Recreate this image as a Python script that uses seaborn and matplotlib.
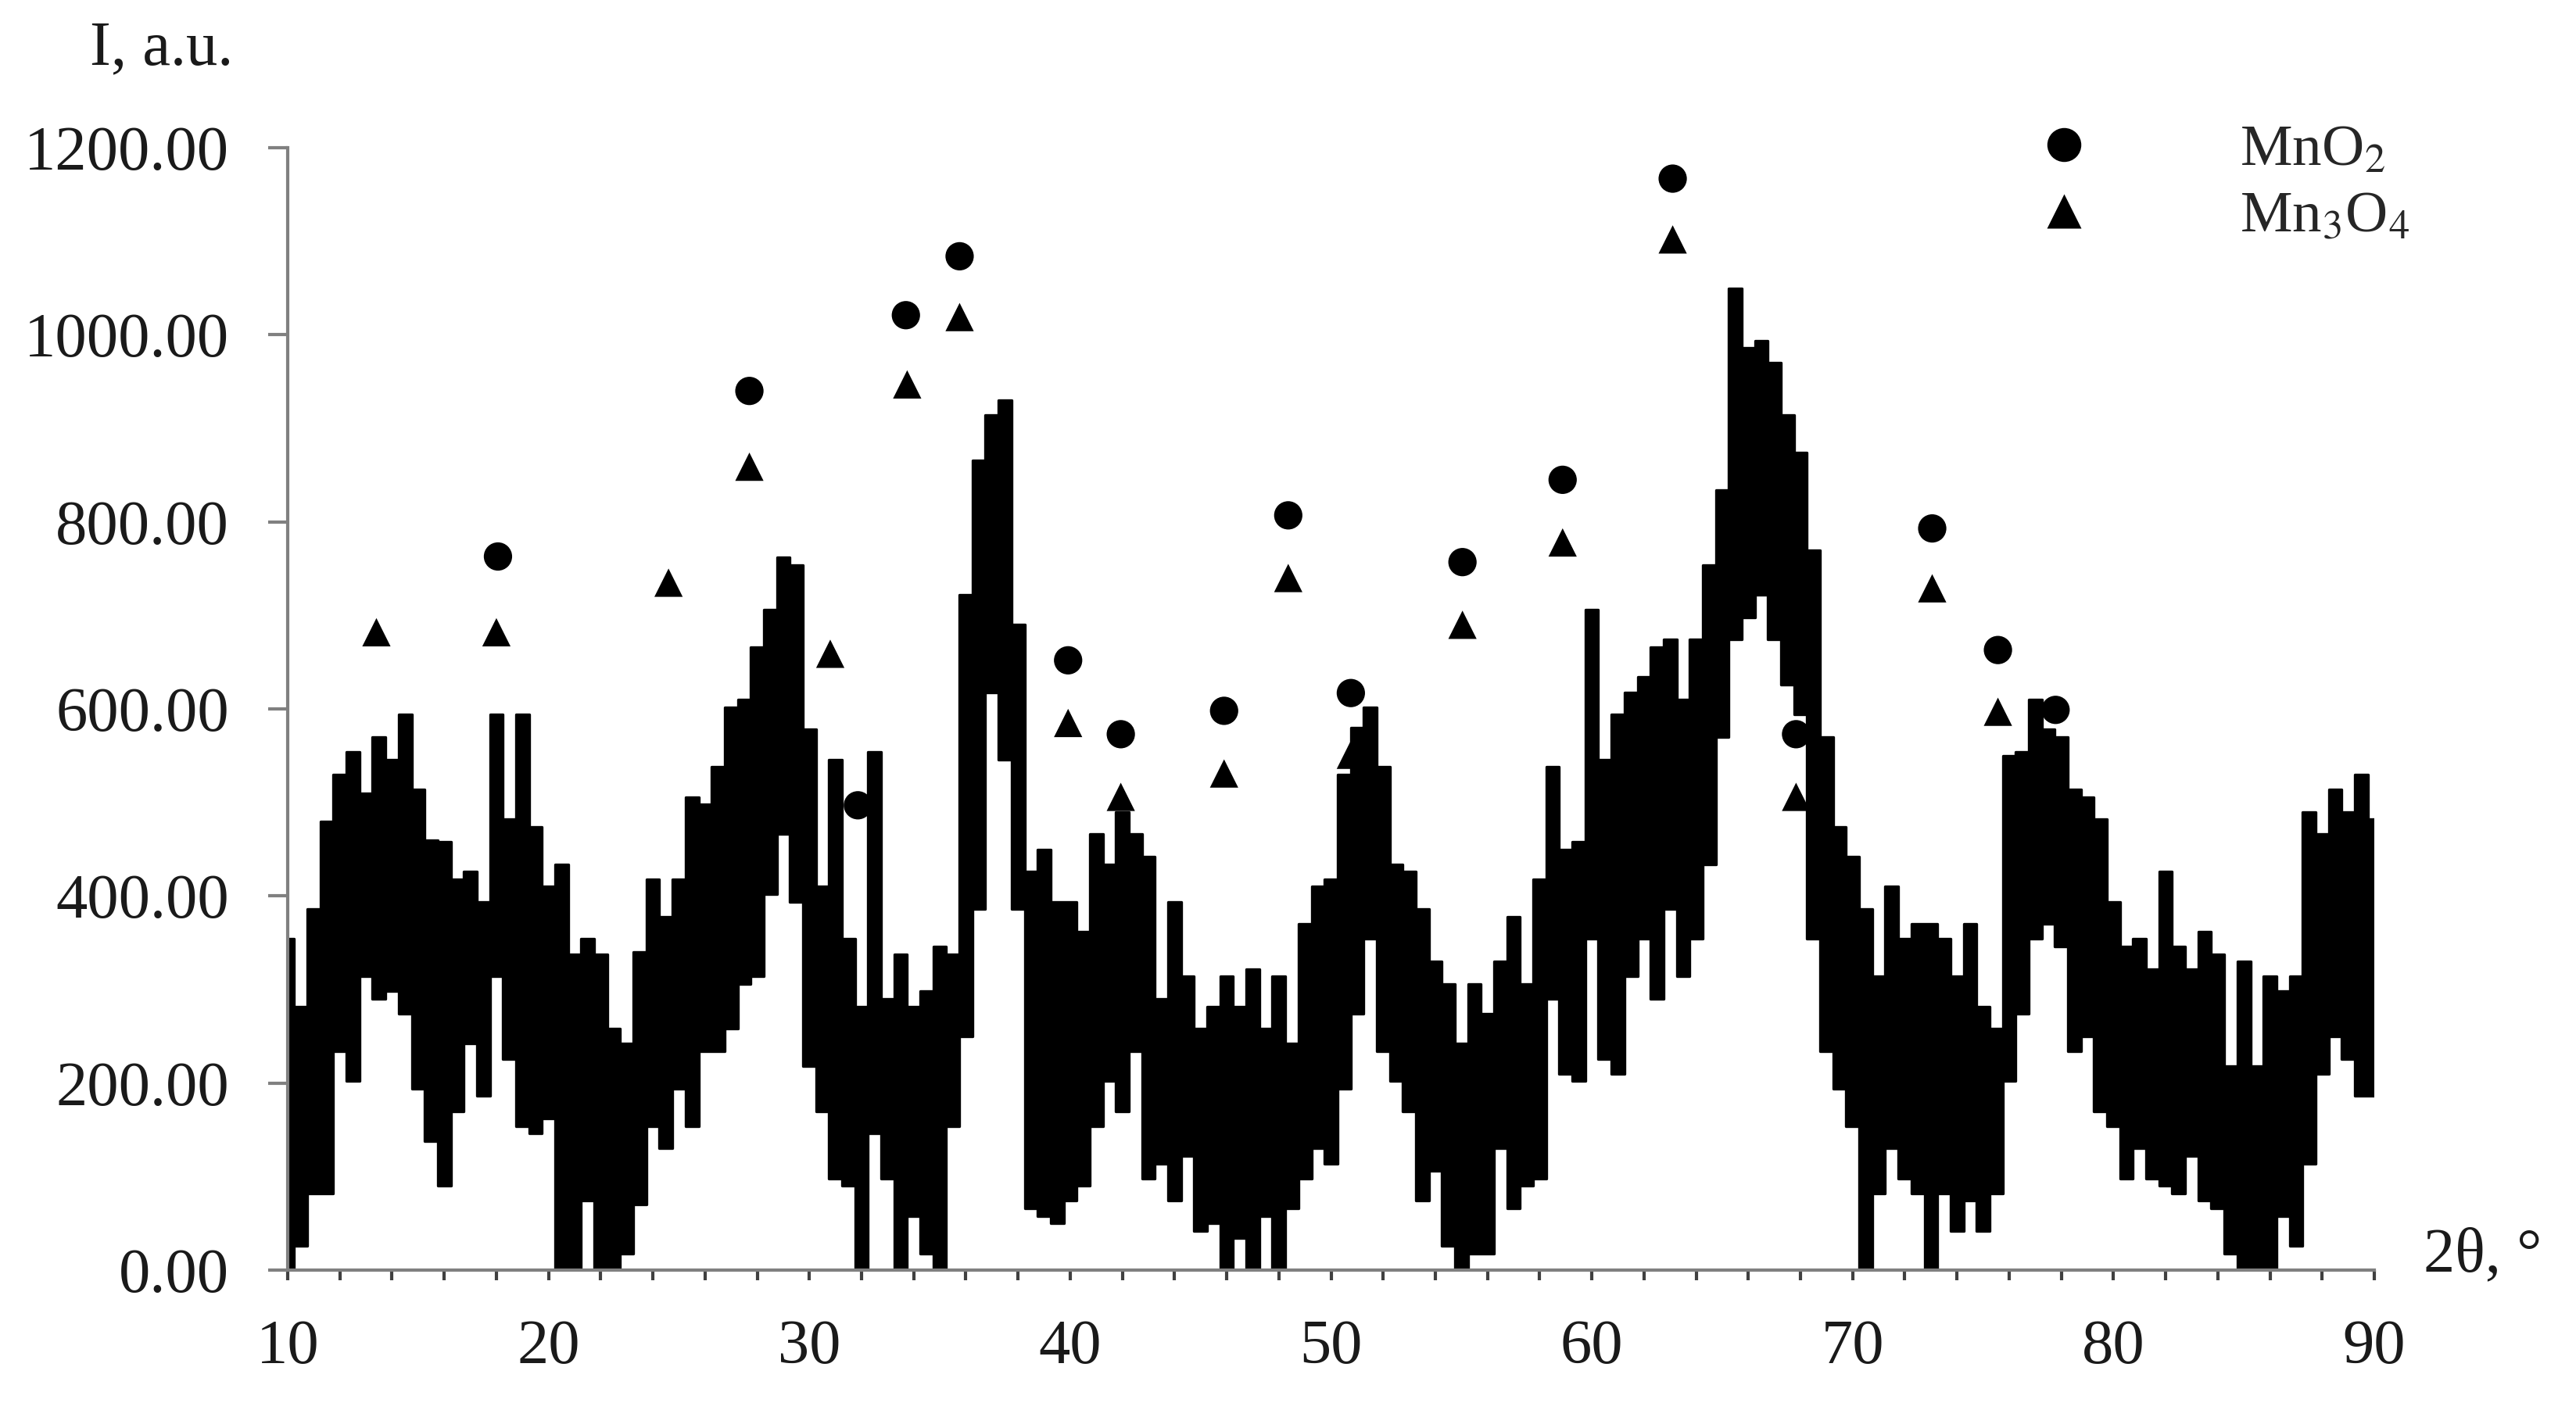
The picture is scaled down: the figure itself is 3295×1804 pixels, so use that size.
import numpy as np
import pandas as pd
import matplotlib
matplotlib.use("Agg")
import matplotlib.pyplot as plt
import seaborn as sns

# 2theta grid of the read-off trace (every 0.5 degree, 10..90)
two_theta = np.arange(10, 90.01, 0.5)

# upper / lower edge of the noisy XRD trace
intensity_high = [
    354, 282, 386, 480, 530, 554, 510, 570, 546, 594,   # 10.0 - 14.5
    514, 460, 458, 418, 426, 394, 594, 482, 594, 474,   # 15.0 - 19.5
    410, 434, 338, 354, 338, 258, 242, 340, 418, 378,   # 20.0 - 24.5
    418, 506, 498, 538, 602, 610, 666, 706, 762, 754,   # 25.0 - 29.5
    578, 410, 546, 354, 282, 554, 290, 338, 282, 298,   # 30.0 - 34.5
    346, 338, 722, 866, 914, 930, 690, 426, 450, 394,   # 35.0 - 39.5
    394, 362, 466, 434, 490, 466, 442, 290, 394, 314,   # 40.0 - 44.5
    258, 282, 314, 282, 322, 258, 314, 242, 370, 410,   # 45.0 - 49.5
    418, 530, 580, 602, 538, 434, 426, 386, 330, 306,   # 50.0 - 54.5
    242, 306, 274, 330, 378, 306, 418, 538, 450, 458,   # 55.0 - 59.5
    706, 546, 594, 618, 634, 666, 674, 610, 674, 754,   # 60.0 - 64.5
    834, 1050, 986, 994, 970, 914, 874, 770, 570, 474,  # 65.0 - 69.5
    442, 386, 314, 410, 354, 370, 370, 354, 314, 370,   # 70.0 - 74.5
    282, 258, 550, 554, 610, 578, 570, 514, 506, 482,   # 75.0 - 79.5
    394, 346, 354, 322, 426, 346, 322, 362, 338, 218,   # 80.0 - 84.5
    330, 218, 314, 298, 314, 490, 466, 514, 490, 530,   # 85.0 - 89.5
    482,                                                # 90.0
]
intensity_low = [
    0, 26, 82, 82, 234, 202, 314, 290, 298, 274,        # 10.0 - 14.5
    194, 138, 90, 170, 242, 186, 314, 226, 154, 146,    # 15.0 - 19.5
    162, 0, 0, 74, 0, 0, 18, 70, 154, 130,              # 20.0 - 24.5
    194, 154, 234, 234, 258, 306, 314, 402, 466, 394,   # 25.0 - 29.5
    218, 170, 98, 90, 0, 146, 98, 0, 58, 18,            # 30.0 - 34.5
    0, 154, 250, 386, 618, 546, 386, 66, 58, 50,        # 35.0 - 39.5
    74, 90, 154, 202, 170, 234, 98, 114, 74, 122,       # 40.0 - 44.5
    42, 50, 0, 34, 0, 58, 0, 66, 98, 130,               # 45.0 - 49.5
    114, 194, 274, 354, 234, 202, 170, 74, 106, 26,     # 50.0 - 54.5
    0, 18, 18, 130, 66, 90, 98, 290, 210, 202,          # 55.0 - 59.5
    354, 226, 210, 314, 354, 290, 386, 314, 354, 434,   # 60.0 - 64.5
    570, 674, 698, 722, 674, 626, 594, 354, 234, 194,   # 65.0 - 69.5
    154, 0, 82, 130, 98, 82, 0, 82, 42, 74,             # 70.0 - 74.5
    42, 82, 202, 274, 354, 370, 346, 234, 250, 170,     # 75.0 - 79.5
    154, 98, 130, 98, 90, 82, 122, 74, 66, 18,          # 80.0 - 84.5
    0, 0, 0, 58, 26, 114, 210, 250, 226, 186,           # 85.0 - 89.5
    186,                                                # 90.0
]

# phase markers (2theta, height of the marker)
mno2_theta = [18.06, 27.7, 31.86, 33.7, 35.76, 39.92, 41.94, 45.9, 48.36,
              50.76, 55.04, 58.88, 63.1, 67.83, 73.05, 75.57, 77.78]
mno2_level = [763, 940, 497, 1021, 1084, 652, 573, 598, 807,
              617, 757, 845, 1167, 573, 793, 663, 599]
mn3o4_theta = [13.4, 18.0, 24.6, 27.7, 30.8, 33.75, 35.76, 39.92, 41.94,
               45.9, 48.36, 50.76, 55.04, 58.88, 63.1, 67.83, 73.05, 75.57]
mn3o4_level = [682, 682, 735, 859, 659, 947, 1019, 585, 506,
               531, 740, 551, 690, 778, 1102, 506, 729, 597]

trace = pd.DataFrame({"theta": two_theta, "high": intensity_high, "low": intensity_low})
peaks = pd.concat([
    pd.DataFrame({"theta": mno2_theta, "level": mno2_level, "phase": r"MnO$_2$"}),
    pd.DataFrame({"theta": mn3o4_theta, "level": mn3o4_level, "phase": r"Mn$_3$O$_4$"}),
], ignore_index=True)

sns.set_style("ticks")
plt.rcParams["font.family"] = ["Liberation Serif", "DejaVu Serif"]
plt.rcParams["mathtext.fontset"] = "stix"

fig = plt.figure(figsize=(16.475, 9.02), dpi=200)
ax = fig.add_axes([0.1117, 0.0992, 0.81, 0.796])

# noisy diffraction trace drawn as a stepped band between its low and high edges
ax.fill_between(trace["theta"], trace["low"], trace["high"], step="mid",
                color="black", lw=0)
sns.lineplot(data=trace, x="theta", y="high", ax=ax, color="black", lw=1.2,
             drawstyle="steps-mid")
sns.lineplot(data=trace, x="theta", y="low", ax=ax, color="black", lw=1.2,
             drawstyle="steps-mid")
ax.vlines(trace["theta"], trace["low"], trace["high"], color="black", lw=1.5)

sns.scatterplot(data=peaks, x="theta", y="level", hue="phase", style="phase",
                markers={r"MnO$_2$": "o", r"Mn$_3$O$_4$": "^"},
                palette={r"MnO$_2$": "black", r"Mn$_3$O$_4$": "black"},
                s=170, edgecolor="none", ax=ax, zorder=5)

ax.set_xlim(10, 90)
ax.set_ylim(0, 1200)
ax.set_xticks(np.arange(10, 91, 10))
ax.set_xticks(np.arange(10, 91, 2), minor=True)
ax.set_yticks(np.arange(0, 1201, 200))
ax.set_yticklabels([f"{v:.2f}" for v in np.arange(0, 1201, 200)])

for side in ["top", "right"]:
    ax.spines[side].set_visible(False)
for side in ["left", "bottom"]:
    ax.spines[side].set_color("#808080")
    ax.spines[side].set_linewidth(1.5)

ax.tick_params(axis="y", which="major", direction="out", length=9, width=1.5,
               color="#808080", labelsize=29, pad=18, labelcolor="#1a1a1a")
ax.tick_params(axis="x", which="both", direction="out", length=4.5, width=1.5,
               color="#404040", labelsize=29, pad=18, labelcolor="#1a1a1a")

ax.set_xlabel("2θ, °", fontsize=29, color="#1a1a1a")
ax.xaxis.label.set(ha="left", va="center")
ax.xaxis.set_label_coords(1.0236, 0.0125)
ax.set_ylabel("I, a.u.", fontsize=29, rotation=0, color="#1a1a1a")
ax.yaxis.label.set(ha="left", va="center")
ax.yaxis.set_label_coords(-0.0948, 1.0877)

leg = ax.legend(loc="upper left", bbox_to_anchor=(0.798, 1.068), frameon=False,
                fontsize=27, handlelength=2, handletextpad=2.0, labelspacing=0.22,
                markerscale=1.2)

fig.savefig("out.png", dpi=200, facecolor="white")
